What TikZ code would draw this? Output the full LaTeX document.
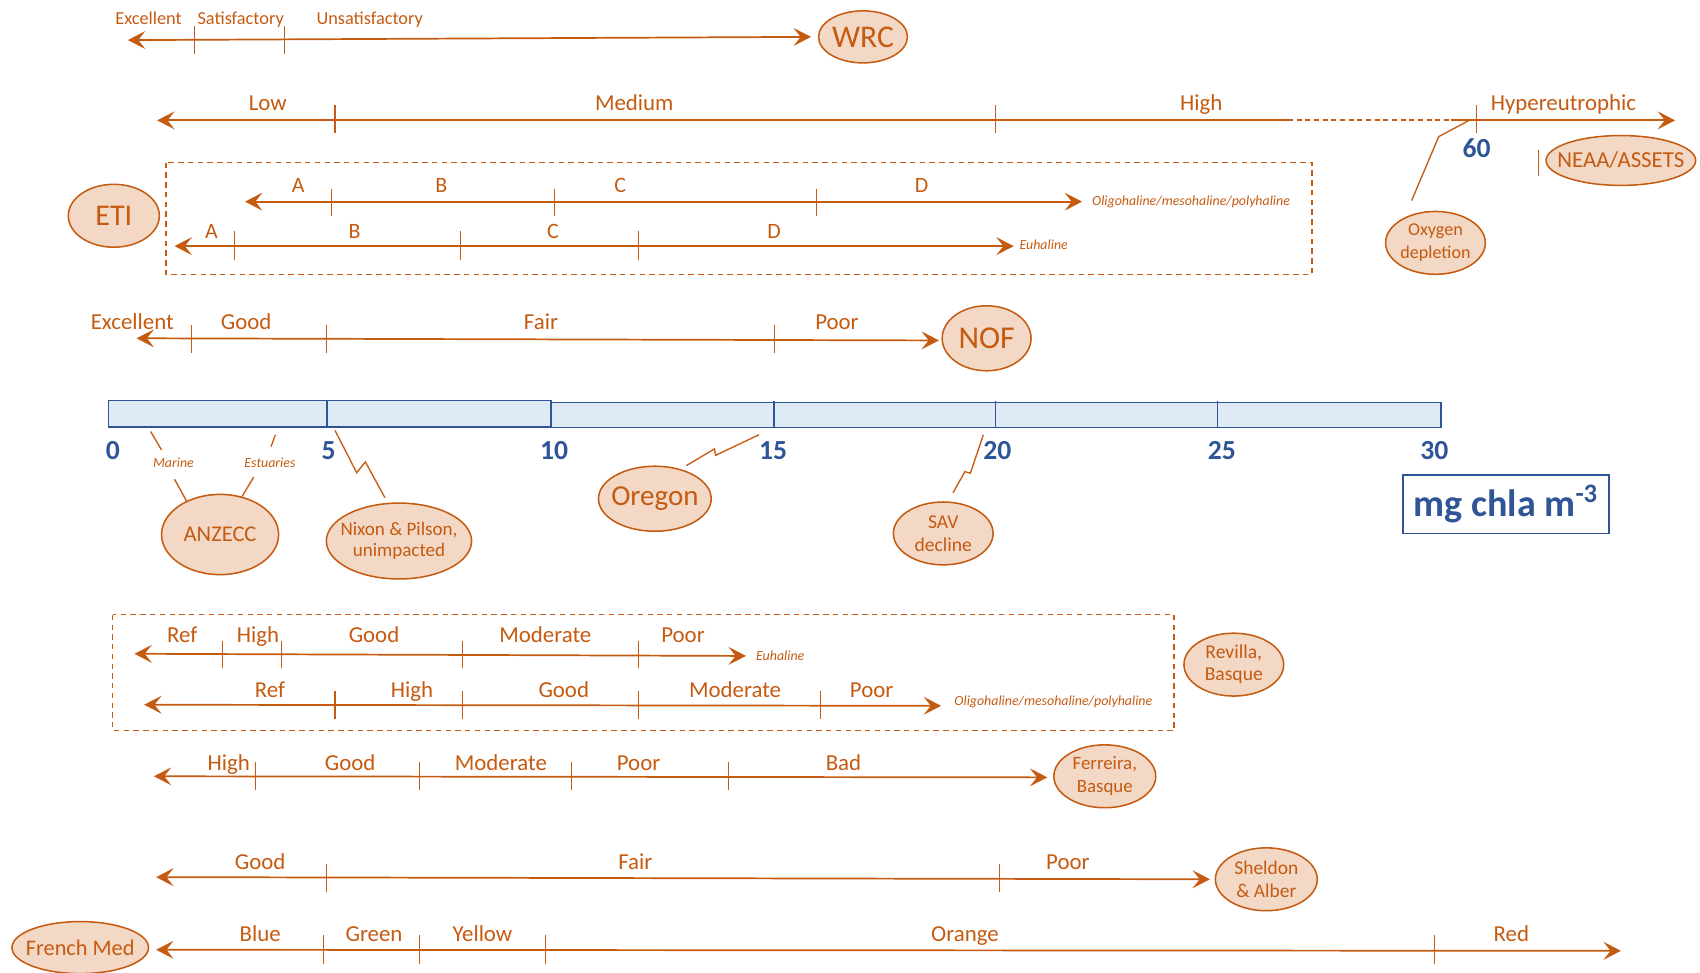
\documentclass[tikz,border=0pt]{standalone}
\usepackage{fontspec}
\setmainfont{Carlito}
\usetikzlibrary{arrows.meta,shapes.geometric}
\definecolor{ChlaOrange}{RGB}{197,90,17}
\definecolor{ChlaPeach}{RGB}{242,216,197}
\definecolor{ChlaBlue}{RGB}{47,85,151}
\definecolor{ChlaBar}{RGB}{222,235,247}

\tikzset{
  ratingline/.style={draw=ChlaOrange,line width=0.9pt},
  tickmark/.style={draw=ChlaOrange,line width=0.55pt},
  pointer/.style={draw=ChlaOrange,line width=0.7pt},
  groupbox/.style={draw=ChlaOrange,line width=0.75pt,dash pattern=on 0.1cm off 0.08cm},
  classlabel/.style={text=ChlaOrange,anchor=base,inner sep=0pt,font=\fontsize{12}{14}\selectfont},
  minorlabel/.style={text=ChlaOrange,anchor=base,inner sep=0pt,font=\fontsize{9.6}{11}\selectfont},
  letterlabel/.style={text=ChlaOrange,anchor=base,inner sep=0pt,font=\fontsize{11.5}{13}\selectfont},
  salinity/.style={text=ChlaOrange,anchor=west,inner sep=0pt,font=\fontsize{7.3}{9}\selectfont\itshape},
  sourceoval/.style={ellipse,draw=ChlaOrange,fill=ChlaPeach,line width=0.8pt,inner sep=0pt},
  ovaltext/.style={text=ChlaOrange,align=center,inner sep=0pt},
  axisnum/.style={text=ChlaBlue,inner sep=0pt,font=\fontsize{14.5}{16}\selectfont\bfseries},
}

\begin{document}
\begin{tikzpicture}[x=0.02cm,y=-0.02cm,>={Stealth[length=0.32cm,width=0.33cm,inset=0.13cm]}]
  \useasboundingbox (0,0) rectangle (1568,897);

  % WRC
  \draw[ratingline,<->] (118,37) -- (748,34);
  \foreach \x in {179,262} \draw[tickmark] (\x,24) -- (\x,50);
  \node[minorlabel] (wrc-exc) at (137,22.5) {Excellent};
  \node[minorlabel] (wrc-sat) at (222,22.5) {Satisfactory};
  \node[minorlabel] (wrc-uns) at (341,22.5) {Unsatisfactory};
  \node[sourceoval,minimum width=1.64cm,minimum height=0.96cm,
    label={[ovaltext,font=\fontsize{16.6}{18}\selectfont]center:WRC}] (wrc) at (796,34) {};

  % NEAA/ASSETS
  \draw[ratingline,<-] (145,111) -- (1188,111);
  \draw[ratingline,dash pattern=on 0.09cm off 0.07cm] (1188,111) -- (1338,111);
  \draw[ratingline,->] (1338,111) -- (1545,111);
  \foreach \x in {309,918,1362} \draw[tickmark] (\x,97) -- (\x,123);
  \node[classlabel] (neaa-low) at (247,102) {Low};
  \node[classlabel] (neaa-med) at (585,102) {Medium};
  \node[classlabel] (neaa-high) at (1108,102) {High};
  \node[classlabel] (neaa-hyp) at (1442,102) {Hypereutrophic};
  \node[axisnum] (num60) at (1362,137) {60};
  \draw[tickmark,line width=0.8pt] (1419,138) -- (1419,162);
  \node[sourceoval,minimum width=2.76cm,minimum height=0.92cm,
    label={[ovaltext,font=\fontsize{12}{14}\selectfont]center:NEAA/ASSETS}] (neaa) at (1495,148) {};
  \node[sourceoval,minimum width=1.84cm,minimum height=1.16cm,
    label={[ovaltext,font=\fontsize{9.5}{12}\selectfont]center:{Oxygen\\depletion}}] (oxygen) at (1324,224) {};
  \draw[pointer] (1302,185) -- (1327,126) -- (1355,111);

  % ETI
  \draw[groupbox] (153,150) rectangle (1210,253);
  \node[sourceoval,minimum width=1.68cm,minimum height=1.16cm,
    label={[ovaltext,font=\fontsize{15.8}{18}\selectfont]center:ETI}] (eti) at (105,199) {};
  \draw[ratingline,<->] (226,186) -- (998,186);
  \foreach \x in {306,511,753} \draw[tickmark] (\x,174) -- (\x,199);
  \node[letterlabel] (eti-a1) at (275,178) {A};
  \node[letterlabel] (eti-b1) at (407,178) {B};
  \node[letterlabel] (eti-c1) at (572,178) {C};
  \node[letterlabel] (eti-d1) at (850,178) {D};
  \node[salinity] (eti-oligo) at (1007,186) {Oligohaline/mesohaline/polyhaline};
  \draw[ratingline,<->] (161,227) -- (935,227);
  \foreach \x in {216,425,589} \draw[tickmark] (\x,213) -- (\x,240);
  \node[letterlabel] (eti-a2) at (195,220) {A};
  \node[letterlabel] (eti-b2) at (327,220) {B};
  \node[letterlabel] (eti-c2) at (510,220) {C};
  \node[letterlabel] (eti-d2) at (714,220) {D};
  \node[salinity] (eti-euha) at (940,226) {Euhaline};

  % NOF
  \draw[ratingline,<->] (126,312) -- (866,314);
  \foreach \x in {177,301,714} \draw[tickmark] (\x,300) -- (\x,326);
  \node[classlabel] (nof-exc) at (122,304) {Excellent};
  \node[classlabel] (nof-good) at (227,304) {Good};
  \node[classlabel] (nof-fair) at (499,304) {Fair};
  \node[classlabel] (nof-poor) at (772,304) {Poor};
  \node[sourceoval,minimum width=1.64cm,minimum height=1.2cm,
    label={[ovaltext,font=\fontsize{16.7}{18}\selectfont]center:NOF}] (nof) at (910,312) {};

  % concentration bar
  \draw[draw=ChlaBlue,fill=ChlaBar,line width=0.9pt] (100,369.5) rectangle (508.5,394);
  \draw[draw=ChlaBlue,fill=ChlaBar,line width=0.7pt] (508.5,371) rectangle (1329,394);
  \foreach \x in {301.5,714,918,1123} \draw[draw=ChlaBlue,line width=0.8pt] (\x,370) -- (\x,394);
  \node[axisnum] (num0) at (104,416) {0};
  \node[axisnum] (num5) at (303,416) {5};
  \node[axisnum] (num10) at (511,416) {10};
  \node[axisnum] (num15) at (713,416) {15};
  \node[axisnum] (num20) at (920,416) {20};
  \node[axisnum] (num25) at (1127,416) {25};
  \node[axisnum] (num30) at (1323,416) {30};
  \node[draw=ChlaBlue,line width=0.8pt,minimum width=3.8cm,minimum height=1.08cm,
    text=ChlaBlue,font=\fontsize{20}{22}\selectfont\bfseries] (unit) at (1389,465) {mg chla m\textsuperscript{-3}};

  % point sources
  \node[sourceoval,minimum width=2.16cm,minimum height=1.48cm,
    label={[ovaltext,font=\fontsize{11.8}{14}\selectfont]center:ANZECC}] (anzecc) at (203,493) {};
  \node[salinity,anchor=center] (anz-marine) at (160,427) {Marine};
  \node[salinity,anchor=center] (anz-estu) at (249,427) {Estuaries};
  \draw[pointer] (139,398) -- (149,415);
  \draw[pointer] (161,442) -- (anzecc.135);
  \draw[pointer] (254,401) -- (250,412);
  \draw[pointer] (234,440) -- (anzecc.60);
  \node[sourceoval,minimum width=2.68cm,minimum height=1.4cm,
    label={[ovaltext,font=\fontsize{10}{11.4}\selectfont]center:{Nixon \& Pilson,\\unimpacted}}] (nixon) at (368,499) {};
  \draw[pointer] (309,397) -- (329,436) -- (337,426) -- (355,459);
  \node[sourceoval,minimum width=2.08cm,minimum height=1.2cm,
    label={[ovaltext,font=\fontsize{15.2}{17}\selectfont]center:Oregon}] (oregon) at (604,460) {};
  \draw[pointer] (700,401) -- (660,420) -- (659,414) -- (633,429.5);
  \node[sourceoval,minimum width=1.84cm,minimum height=1.16cm,
    label={[ovaltext,font=\fontsize{10.3}{12}\selectfont]center:{SAV\\decline}}] (sav) at (870,492) {};
  \draw[pointer] (907,401) -- (895,436.5) -- (890,435) -- (879,454.5);

  % Revilla
  \draw[groupbox] (104,567) rectangle (1083,674);
  \draw[ratingline,<->] (124,603) -- (688,605);
  \foreach \x in {205,260,427,589} \draw[tickmark] (\x,591) -- (\x,616);
  \node[classlabel] (rev-ref1) at (168,593) {Ref};
  \node[classlabel] (rev-high1) at (238,593) {High};
  \node[classlabel] (rev-good1) at (345,593) {Good};
  \node[classlabel] (rev-mod1) at (503,593) {Moderate};
  \node[classlabel] (rev-poor1) at (630,593) {Poor};
  \node[salinity] (rev-euha) at (697,605) {Euhaline};
  \draw[ratingline,<->] (133,650) -- (868,651);
  \foreach \x in {309,427,589,757} \draw[tickmark] (\x,637) -- (\x,663);
  \node[classlabel] (rev-ref2) at (249,643) {Ref};
  \node[classlabel] (rev-high2) at (380,643) {High};
  \node[classlabel] (rev-good2) at (520,643) {Good};
  \node[classlabel] (rev-mod2) at (678,643) {Moderate};
  \node[classlabel] (rev-poor2) at (804,643) {Poor};
  \node[salinity] (rev-oligo) at (880,647) {Oligohaline/mesohaline/polyhaline};
  \node[sourceoval,minimum width=1.84cm,minimum height=1.16cm,
    label={[ovaltext,font=\fontsize{10.3}{11.4}\selectfont]center:{Revilla,\\Basque}}] (revilla) at (1138,613) {};

  % Ferreira
  \draw[ratingline,<->] (142,716) -- (966,717);
  \foreach \x in {236,387,527,672} \draw[tickmark] (\x,703) -- (\x,729);
  \node[classlabel] (fer-high) at (211,711) {High};
  \node[classlabel] (fer-good) at (323,711) {Good};
  \node[classlabel] (fer-mod) at (462,711) {Moderate};
  \node[classlabel] (fer-poor) at (589,711) {Poor};
  \node[classlabel] (fer-bad) at (778,711) {Bad};
  \node[sourceoval,minimum width=1.88cm,minimum height=1.16cm,
    label={[ovaltext,font=\fontsize{9.9}{12}\selectfont]center:{Ferreira,\\Basque}}] (ferreira) at (1019,716) {};

  % Sheldon & Alber
  \draw[ratingline,<->] (144,809) -- (1116,811);
  \foreach \x in {301,922} \draw[tickmark] (\x,797) -- (\x,823);
  \node[classlabel] (she-good) at (240,802) {Good};
  \node[classlabel] (she-fair) at (586,802) {Fair};
  \node[classlabel] (she-poor) at (985,802) {Poor};
  \node[sourceoval,minimum width=1.88cm,minimum height=1.16cm,
    label={[ovaltext,font=\fontsize{10.2}{12}\selectfont]center:{Sheldon\\\& Alber}}] (sheldon) at (1168,811) {};

  % French Med
  \draw[ratingline,<->] (144,876) -- (1495,877);
  \foreach \x in {298,387,503,1323} \draw[tickmark] (\x,862) -- (\x,889);
  \node[classlabel] (fr-blue) at (240,868) {Blue};
  \node[classlabel] (fr-green) at (345,868) {Green};
  \node[classlabel] (fr-yellow) at (445,868) {Yellow};
  \node[classlabel] (fr-orange) at (890,868) {Orange};
  \node[classlabel] (fr-red) at (1394,868) {Red};
  \node[sourceoval,minimum width=2.52cm,minimum height=0.96cm,
    label={[ovaltext,font=\fontsize{11.7}{14}\selectfont]center:French Med}] (frenchmed) at (74,874) {};
\end{tikzpicture}
\end{document}
